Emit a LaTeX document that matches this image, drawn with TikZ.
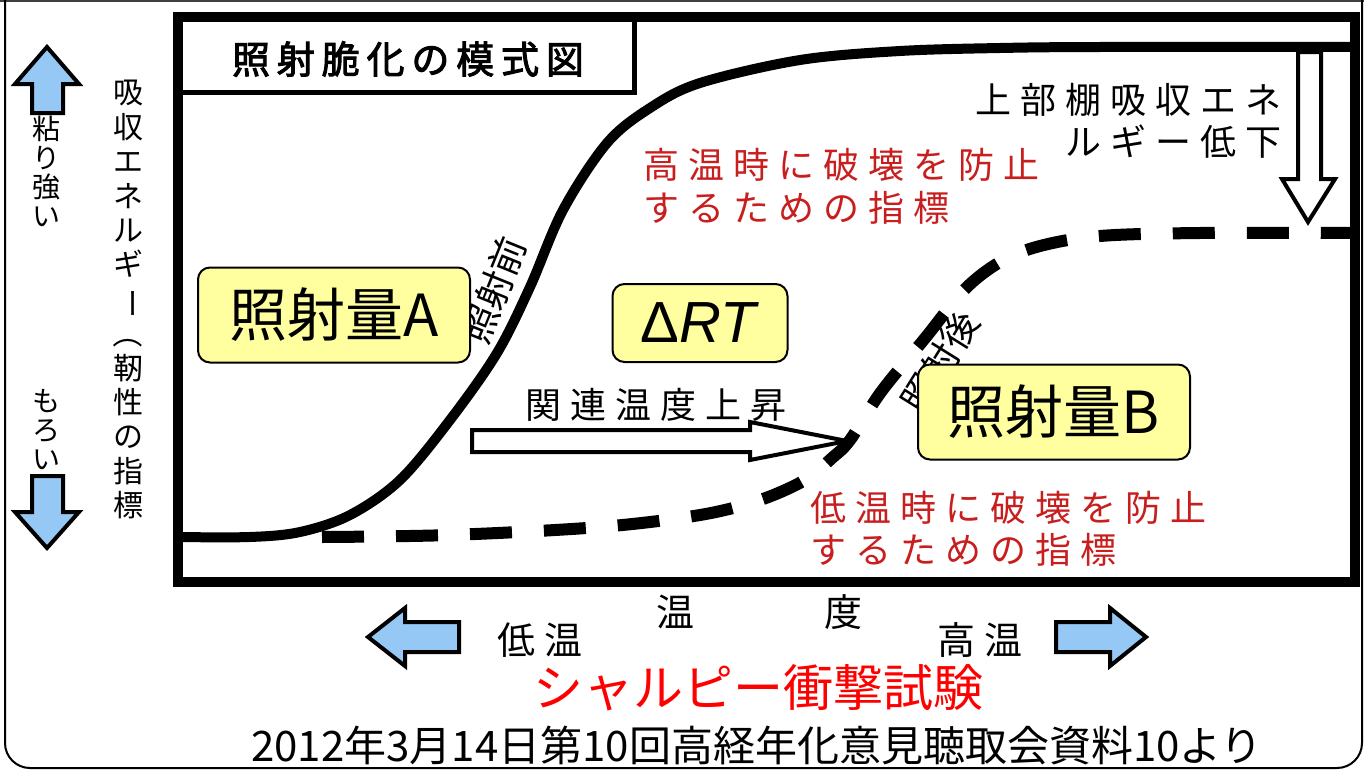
\documentclass[tikz,border=0pt]{standalone}
\usepackage{fontspec}
\setmainfont{Noto Sans CJK JP}
\newfontfamily\jp{Noto Sans CJK JP}
\newfontfamily\jpsp[LetterSpace=25]{Noto Sans CJK JP}
\newfontfamily\jpb[FakeBold=2.5,LetterSpace=18]{Noto Sans CJK JP}
\newfontfamily\lsans{Liberation Sans}
\definecolor{boxyellow}{RGB}{255,255,160}
\definecolor{arrowblue}{RGB}{150,200,245}
\definecolor{labelred}{RGB}{200,30,30}
\definecolor{brightred}{RGB}{255,0,0}
\begin{document}
\begin{tikzpicture}[x=1pt,y=-1pt,
  ybox/.style={draw=black,line width=2pt,fill=boxyellow,rounded corners=12pt,inner sep=0pt,
    font=\jp\fontsize{58}{60}\selectfont},
  lbl/.style={inner sep=0pt,font=\jpsp\fontsize{36}{40}\selectfont},
  redlbl/.style={lbl,text=labelred},
  axislbl/.style={inner sep=0pt,font=\jpsp\fontsize{38}{40}\selectfont},
  curvelbl/.style={inner sep=0pt,font=\jp\fontsize{37}{40}\selectfont},
  hollow/.style={draw=black,line width=4pt,fill=white,line join=miter},
  bluearrow/.style={draw=black,line width=4pt,fill=arrowblue,line join=miter},
  vch/.style={inner sep=0pt,text height=0.88em,text depth=0.12em}]
\useasboundingbox (0,0) rectangle (1364,771);
\fill[white] (0,0) rectangle (1364,771);
% outer frame
\draw[black!75,line width=1.5pt] (0,1) -- (1364,1);
\draw[black,line width=2pt,rounded corners=25pt] (5,-40) -- (5,768) -- (1362,768) -- (1362,-40);
% title box
\draw[line width=5pt] (178,17) rectangle (634,92);
\node[inner sep=0pt,font=\jpb\fontsize{38}{40}\selectfont] (title) at (408,59) {照射脆化の模式図};
% curves
\draw[line width=10pt,line cap=butt] plot[smooth,tension=0.55] coordinates
  {(178,537) (250,537) (300,532) (350,515) (400,480) (450,420) (497,353) (530,287) (563,210) (607,143) (650,108) (700,83) (800,60) (900,51) (1000,48) (1100,47) (1355,47)};
\draw[line width=12pt,dash pattern=on 42pt off 32pt] plot[smooth,tension=0.55] coordinates
  {(322,537) (450,535) (600,527) (700,515) (760,500) (805,480) (832,458) (850,440) (881,392) (926,337) (964,290) (1000,262) (1040,246) (1100,236) (1200,233) (1355,233)};
% chart frame
\draw[line width=10pt] (178,17) rectangle (1355,582);
% arrows
\draw[hollow] (1298,52) -- (1321,52) -- (1321,179) -- (1335,179) -- (1308,222) -- (1282,179) -- (1298,179) -- cycle;
\draw[hollow] (472,430) -- (750,430) -- (750,422) -- (847,441) -- (750,460) -- (750,452) -- (472,452) -- cycle;
\draw[bluearrow] (47,47) -- (79,84) -- (63,84) -- (63,113) -- (32,113) -- (32,84) -- (15,84) -- cycle;
\draw[bluearrow] (32,476) -- (63,476) -- (63,512) -- (79,512) -- (47,548) -- (15,512) -- (32,512) -- cycle;
\draw[bluearrow] (368,637) -- (405,608) -- (405,622) -- (459,622) -- (459,652) -- (405,652) -- (405,666) -- cycle;
\draw[bluearrow] (1146,637) -- (1110,608) -- (1110,622) -- (1056,622) -- (1056,652) -- (1110,652) -- (1110,666) -- cycle;
% curve labels
\node[curvelbl,rotate=68] (pre) at (494,290) {照射前};
\node[curvelbl,rotate=58] (post) at (940,362) {照射後};
% text labels
\node[redlbl,anchor=west] (hi1) at (643,165) {高温時に破壊を防止};
\node[redlbl,anchor=west] (hi2) at (643,208) {するための指標};
\node[redlbl,anchor=west] (lo1) at (810,508) {低温時に破壊を防止};
\node[redlbl,anchor=west] (lo2) at (810,550) {するための指標};
\node[lbl,anchor=east] (us1) at (1282,100) {上部棚吸収エネ};
\node[lbl,anchor=east] (us2) at (1282,142) {ルギー低下};
\node[lbl,anchor=west] (shift) at (525,405) {関連温度上昇};
% boxes
\node[ybox,minimum width=272pt,minimum height=95pt] (boxA) at (334,315) {照射量A};
\node[ybox,minimum width=175pt,minimum height=78pt] (boxRT) at (700,323) {\lsans\fontsize{58}{60}\selectfont Δ\textit{RT}};
\node[ybox,minimum width=272pt,minimum height=95pt] (boxB) at (1054,412) {照射量B};
% vertical axis labels
\foreach \c [count=\i from 0] in {粘,り,強,い}
  \node[vch,font=\jp\fontsize{28}{29}\selectfont] (t\i) at (46,136+29*\i) {\c};
\foreach \c [count=\i from 0] in {も,ろ,い}
  \node[vch,font=\jp\fontsize{28}{29}\selectfont] (b\i) at (46,408+29*\i) {\c};
\foreach \c [count=\i from 0] in {吸,収,エ,ネ,ル,ギ,{\rotatebox[origin=c]{-90}{ー}},{\rotatebox[origin=c]{-90}{（}},靭,性,の,指,標}
  \node[vch,font=\jp\fontsize{30}{34}\selectfont] (e\i) at (128,100+34.4*\i) {\c};
% horizontal axis labels
\node[axislbl] (low) at (540,640) {低温};
\node[axislbl] (tmp1) at (675,612) {温};
\node[axislbl] (tmp2) at (843,612) {度};
\node[axislbl] (high) at (980,640) {高温};
\node[inner sep=0pt,text=brightred,font=\jp\fontsize{50}{54}\selectfont] (charpy) at (758,688) {シャルピー衝撃試験};
\node[inner sep=0pt,font=\jp\fontsize{42}{44}\selectfont] (src) at (757,745) {2012年3月14日第10回高経年化意見聴取会資料10より};
\end{tikzpicture}
\end{document}
